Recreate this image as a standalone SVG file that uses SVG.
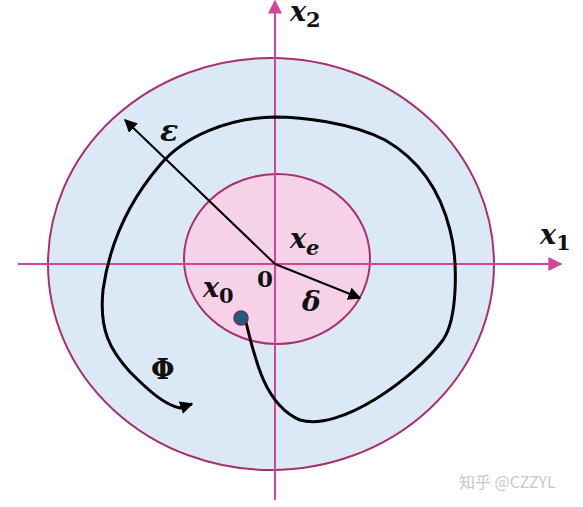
<svg xmlns="http://www.w3.org/2000/svg" width="583" height="507" viewBox="0 0 583 507">
<defs>
<marker id="pinkHead" viewBox="0 0 10 10" refX="9" refY="5" markerWidth="14" markerHeight="14" markerUnits="userSpaceOnUse" orient="auto">
<path d="M0,0 L10,5 L0,10 z" fill="#d6449a"/>
</marker>
<marker id="blackHead" viewBox="0 0 10 10" refX="9" refY="5" markerWidth="13" markerHeight="13" markerUnits="userSpaceOnUse" orient="auto">
<path d="M0,0 L10,5 L0,10 z" fill="#000"/>
</marker>
<style>
.axis{stroke:#d6449a;stroke-width:2;fill:none}
.ring{stroke:#a8306f;stroke-width:2}
.lbl{font-family:"DejaVu Serif",serif;font-weight:bold;font-style:italic;fill:#111}
.sub{font-style:normal}
.up{font-family:"DejaVu Serif",serif;font-weight:bold;fill:#111}
.ray{stroke:#000;stroke-width:2;fill:none}
</style>
</defs>
<rect width="583" height="507" fill="#fff"/>
<g id="outer-region">
<ellipse class="ring" cx="271" cy="264" rx="223" ry="206" fill="#dae9f5"/>
</g>
<g id="inner-region">
<ellipse class="ring" cx="277" cy="259" rx="93" ry="85" fill="#f6d2e8"/>
</g>
<g id="connectors">
<line class="axis" x1="275" y1="500" x2="275" y2="1" marker-end="url(#pinkHead)"/>
<line class="axis" x1="18" y1="264" x2="561" y2="264" marker-end="url(#pinkHead)"/>
<line class="ray" x1="275" y1="264" x2="125" y2="120" marker-end="url(#blackHead)"/>
<line class="ray" x1="275" y1="264" x2="360" y2="298" marker-end="url(#blackHead)"/>
<path id="trajectory" d="M245,318 C255,360 265,405 300,420 C340,432 415,378 443,340 C458,318 458,260 450,230 C440,190 420,160 385,140 C350,122 300,117 275,117 C230,118 185,135 160,165 C130,200 110,240 103,290 C99,330 110,350 130,372 C150,392 165,405 180,408 L192,404" stroke="#000" stroke-width="3" fill="none" marker-end="url(#blackHead)"/>
</g>
<g id="x0-point">
<circle cx="241" cy="318" r="7" fill="#1e5c80" stroke="#7a2a5e" stroke-width="1.5"/>
</g>
<g id="labels">
<text class="lbl" x="290" y="21" font-size="27">x<tspan class="sub" font-size="21" dy="6">2</tspan></text>
<text class="lbl" x="540" y="244" font-size="27">x<tspan class="sub" font-size="21" dy="6">1</tspan></text>
<text class="lbl" x="160" y="141" font-size="30">ε</text>
<text class="lbl" x="290" y="248" font-size="27">x<tspan font-size="21" dy="7">e</tspan></text>
<text class="up" x="257" y="287" font-size="23">0</text>
<text class="lbl" x="203" y="297" font-size="27">x<tspan class="sub" font-size="21" dy="6">0</tspan></text>
<text class="lbl" x="302" y="311" font-size="28">δ</text>
<text class="up" x="151" y="379" font-size="27">Φ</text>
<text x="459" y="488" font-size="16" fill="#c8c8c8" font-family="'Noto Sans CJK SC',sans-serif">知乎 @CZZYL</text>
</g>
</svg>
